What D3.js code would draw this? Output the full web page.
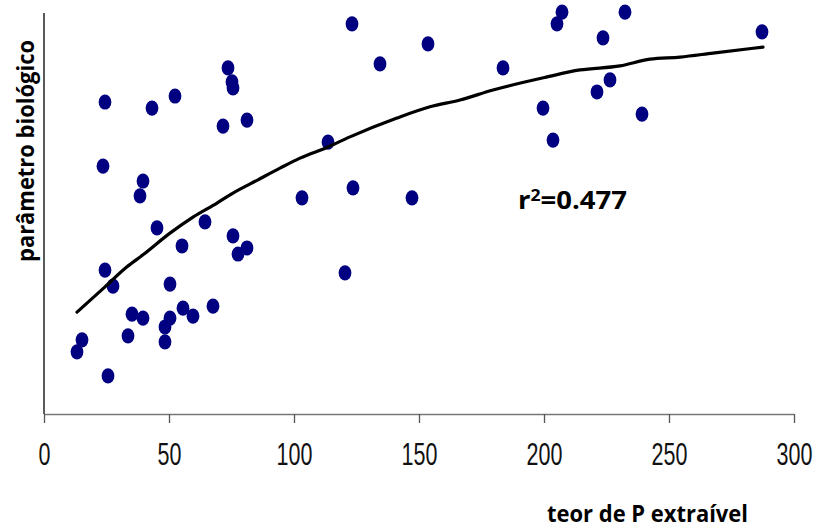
<!DOCTYPE html>
<html>
<head>
<meta charset="utf-8">
<script src="https://cdn.jsdelivr.net/npm/d3@7/dist/d3.min.js"></script>
<style>
  html, body { margin: 0; padding: 0; background: #fff; }
  svg { display: block; }
</style>
</head>
<body>
<svg id="chart" width="816" height="528"></svg>
<script>
// ---- data ----
const xTicks = [0, 50, 100, 150, 200, 250, 300];

const pointsX = [13.2, 15.2, 24.4, 23.6, 24.4, 27.6, 25.6, 33.6, 35.2, 39.6,
                 38.4, 39.6, 43.2, 45.2, 48.4, 48.4, 50.4, 50.4, 52.4, 55.2,
                 55.6, 59.6, 64.4, 67.6, 71.6, 73.6, 75.2, 75.6, 75.6, 77.6,
                 81.2, 81.2, 103.2, 113.6, 120.4, 123.2, 123.6, 134.4, 147.2, 153.6,
                 183.6, 199.6, 203.6, 205.2, 207.2, 221.2, 223.6, 226.4, 232.4, 239.2,
                 287.2];
const pointsY = [15.5, 18.5, 77.8, 61.8, 35.9, 31.9, 9.5, 19.5, 24.9, 23.9,
                 54.4, 58.1, 76.3, 46.4, 21.7, 18.0, 23.9, 32.4, 79.3, 41.9,
                 26.4, 24.4, 47.9, 26.9, 71.8, 86.3, 82.8, 81.3, 44.4, 39.9,
                 73.3, 41.4, 53.9, 67.8, 35.2, 97.3, 56.4, 87.3, 53.9, 92.3,
                 86.3, 76.3, 68.3, 97.3, 100.2, 80.3, 93.8, 83.3, 100.2, 74.8,
                 95.3];

const fitX = [13.2, 24.4, 33.2, 39.6, 50.4, 59.6, 69.2, 75.6, 85.6, 94.4,
              102.4, 113.6, 122.4, 141.2, 154.4, 166.4, 179.6, 200.8, 214.4, 230.4,
              242.4, 254.4, 267.6, 287.6];
const fitY = [25.4, 31.7, 36.7, 39.7, 45.1, 49.1, 52.6, 55.1, 58.4, 61.3,
              63.8, 66.6, 69.1, 73.8, 76.6, 78.3, 80.8, 84.0, 85.8, 86.8,
              88.5, 89.0, 90.0, 91.5];

const xTitle = "teor de P extraível";
const yTitle = "parâmetro biológico";
const r2Label = "0.477";

// ---- layout ----
const svg = d3.select("#chart");
svg.append("rect").attr("width", 816).attr("height", 528).attr("fill", "#fff");

const x = d3.scaleLinear().domain([0, 300]).range([44, 794]);
const y = d3.scaleLinear().domain([0, 100]).range([414, 13]);

// y axis line (no ticks)
svg.append("line")
  .attr("x1", x(0)).attr("x2", x(0))
  .attr("y1", y(100)).attr("y2", y(0))
  .attr("stroke", "#000").attr("stroke-width", 1.3);

// x axis
const xAxis = svg.append("g")
  .attr("transform", `translate(0,${y(0)})`)
  .call(d3.axisBottom(x).tickValues(xTicks).tickSize(9).tickSizeOuter(0).tickFormat(d3.format("d")));
xAxis.select(".domain").attr("stroke", "#777").attr("stroke-width", 1.5);
xAxis.selectAll(".tick line").attr("stroke", "#555").attr("stroke-width", 1.3);
xAxis.selectAll(".tick text")
  .attr("y", 0).attr("dy", null)
  .attr("transform", "translate(0,51) scale(1,1.43)")
  .attr("fill", "#111")
  .style("font-family", "'Liberation Sans', Arial, sans-serif")
  .style("font-size", "21.5px");

// points
const pts = pointsX.map((v, i) => [v, pointsY[i]]);
svg.append("g").selectAll("ellipse").data(pts).join("ellipse")
  .attr("cx", d => x(d[0])).attr("cy", d => y(d[1]))
  .attr("rx", 6.4).attr("ry", 7.6)
  .attr("fill", "#000080");

// fitted curve
const fit = fitX.map((v, i) => [v, fitY[i]]);
svg.append("path")
  .datum(fit)
  .attr("d", d3.line().x(d => x(d[0])).y(d => y(d[1])).curve(d3.curveMonotoneX))
  .attr("fill", "none").attr("stroke", "#000").attr("stroke-width", 3.2)
  .attr("stroke-linejoin", "round").attr("stroke-linecap", "round");

// r² label
const r2 = svg.append("text")
  .attr("x", 518).attr("y", 209)
  .attr("textLength", 109).attr("lengthAdjust", "spacingAndGlyphs")
  .attr("fill", "#000")
  .style("font-family", "'Open Sans', Lato, sans-serif")
  .style("font-weight", "bold")
  .style("font-size", "25px");
r2.append("tspan").text("r");
r2.append("tspan").attr("dy", -8).style("font-size", "16px").text("2");
r2.append("tspan").attr("dy", 8).text("=" + r2Label);

// axis titles
svg.append("text")
  .attr("x", 547).attr("y", 522)
  .attr("textLength", 201).attr("lengthAdjust", "spacingAndGlyphs")
  .attr("fill", "#000")
  .style("font-family", "'Open Sans', Lato, sans-serif")
  .style("font-weight", "bold")
  .style("font-size", "24px")
  .text(xTitle);

svg.append("text")
  .attr("transform", "translate(34,262) rotate(-90)")
  .attr("x", 0).attr("y", 0)
  .attr("textLength", 222).attr("lengthAdjust", "spacingAndGlyphs")
  .attr("fill", "#000")
  .style("font-family", "'Open Sans', Lato, sans-serif")
  .style("font-weight", "bold")
  .style("font-size", "24px")
  .text(yTitle);
</script>
</body>
</html>
